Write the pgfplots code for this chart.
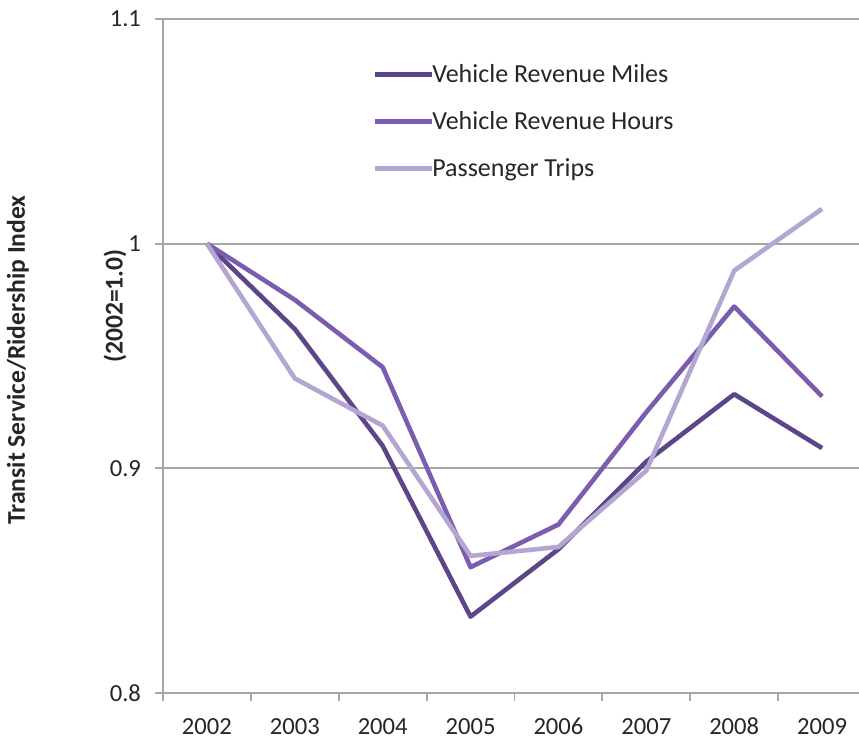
\documentclass[border=0pt]{standalone}
\usepackage{pgfplots}
\pgfplotsset{compat=1.18}
\usepackage{fontspec}
\setmainfont{Carlito}

\definecolor{vrm}{HTML}{5C4589}
\definecolor{vrh}{HTML}{7C5CAE}
\definecolor{ptrips}{HTML}{B3A6D2}
\definecolor{gridgray}{HTML}{A6A6A6}
\definecolor{txt}{HTML}{262626}

\begin{document}
\begin{tikzpicture}
\useasboundingbox (-81.5pt,-23.5pt) rectangle (348pt,346.5pt);
\begin{axis}[
  scale only axis,
  width=348pt,
  height=337pt,
  xmin=-0.5, xmax=7.42,
  ymin=0.8, ymax=1.1,
  axis lines*=left,
  axis line style={draw=gridgray, line width=0.9pt},
  xtick={0,...,7},
  xticklabels={2002,2003,2004,2005,2006,2007,2008,2009},
  xtick style={draw=none},
  extra x ticks={-0.5,0.5,...,6.5},
  extra x tick labels={},
  extra x tick style={xtick style={draw=gridgray, line width=0.9pt}},
  ytick={0.8,0.9,1,1.1},
  yticklabels={0.8,0.9,1,1.1},
  ytick style={draw=gridgray, line width=0.9pt},
  tick align=outside,
  major tick length=4pt,
  ymajorgrids,
  grid style={draw=gridgray, line width=1pt},
  tick label style={font=\fontsize{12.3}{14}\selectfont, text=txt},
  /pgf/number format/assume math mode=true,
  xticklabel style={yshift=-5pt},
  yticklabel style={xshift=-3.5pt},
  clip=false,
  legend style={at={(rel axis cs:0.3007,0.935)}, anchor=north west, draw=none, fill=none,
    font=\fontsize{13}{15}\selectfont, text=txt, row sep=12pt, column sep=-1.5pt,
    inner sep=0pt, nodes={inner sep=0.5pt}},
  legend cell align=left,
  legend image code/.code={\draw[#1] (0pt,0pt) -- (28.5pt,0pt);},
  every axis plot/.append style={line width=2.3pt, line join=round},
]
\addplot[vrm] coordinates {
  (0,1.000) (1,0.962) (2,0.910) (3,0.834) (4,0.864) (5,0.903) (6,0.933) (7,0.909)
};
\addlegendentry{Vehicle Revenue Miles}
\addplot[vrh] coordinates {
  (0,1.000) (1,0.975) (2,0.945) (3,0.856) (4,0.875) (5,0.925) (6,0.972) (7,0.932)
};
\addlegendentry{Vehicle Revenue Hours}
\addplot[ptrips] coordinates {
  (0,1.000) (1,0.940) (2,0.919) (3,0.861) (4,0.865) (5,0.899) (6,0.988) (7,1.0155)
};
\addlegendentry{Passenger Trips}
\node[rotate=90, font=\bfseries\fontsize{12.8}{14}\selectfont, text=txt, inner sep=0pt]
  at ([xshift=-72.5pt]rel axis cs:0,0.494) {Transit Service/Ridership Index};
\node[rotate=90, font=\bfseries\fontsize{12.8}{14}\selectfont, text=txt, inner sep=0pt]
  at ([xshift=-24pt]rel axis cs:0,0.574) {(2002=1.0)};
\end{axis}
\end{tikzpicture}
\end{document}
